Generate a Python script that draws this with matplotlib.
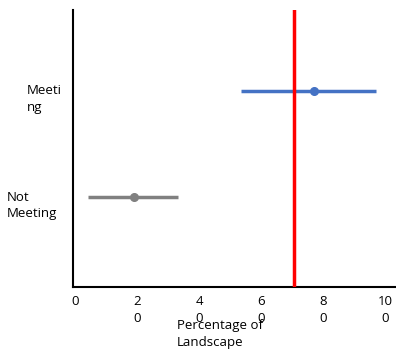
import matplotlib.pyplot as plt
import matplotlib.transforms as mtransforms

plt.rcParams['font.family'] = ['Open Sans', 'DejaVu Sans']

categories = ["Not\nMeeting", "Meeti\nng"]
ypos = [0, 1]
means = [19, 77]
lows = [4, 53.5]
highs = [33, 97]
colors = ["#808080", "#4472C4"]
threshold = 70.5
xticks = [0, 20, 40, 60, 80, 100]
xticklabels = ["0", "2\n0", "4\n0", "6\n0", "8\n0", "10\n0"]

fig = plt.figure(figsize=(3.96, 3.53), dpi=100)
ax = fig.add_axes([73 / 396, 1 - 287 / 353, 323 / 396, 277 / 353])

for y, m, lo, hi, c in zip(ypos, means, lows, highs, colors):
    ax.errorbar([m], [y], xerr=[[m - lo], [hi - m]], fmt='o', color=c,
                ecolor=c, elinewidth=2.5, markersize=5.5, capsize=0, zorder=3)

ax.axvline(threshold, color="#FF0000", linewidth=2.5, zorder=4)

ax.set_xlim(-0.8, 103.5)
ax.set_ylim(-0.85, 1.76)

ax.spines['top'].set_visible(False)
ax.spines['right'].set_visible(False)
ax.spines['left'].set_linewidth(1.5)
ax.spines['bottom'].set_linewidth(1.5)

ax.set_xticks(xticks)
ax.set_xticklabels(xticklabels, fontsize=9.5, va='top', linespacing=1.4)
ax.tick_params(axis='x', length=0, pad=6)
ax.set_yticks([])

# y category labels sit left of the axis, left aligned
trans = mtransforms.blended_transform_factory(fig.transFigure, ax.transData)
label_x = [7 / 396, 27 / 396]
for y, lab, lx in zip(ypos, categories, label_x):
    ax.text(lx, y - 0.08, lab, transform=trans, ha='left', va='center',
            fontsize=9.5, linespacing=1.35)

fig.text(177 / 396, 1 - 334 / 353, "Percentage of\nLandscape", ha='left',
         va='center', fontsize=9.5, linespacing=1.35)

fig.savefig("out.png", dpi=100)
